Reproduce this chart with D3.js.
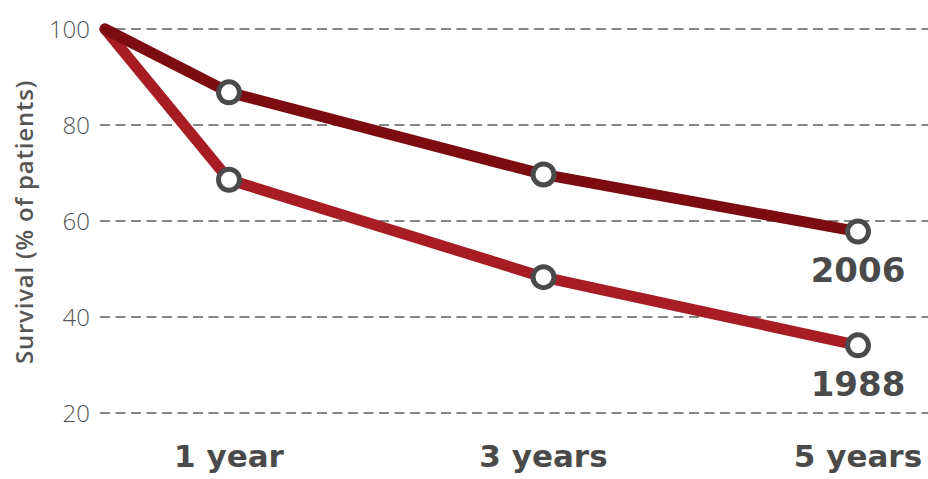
<!DOCTYPE html>
<html>
<head>
<meta charset="utf-8">
<script src="https://cdn.jsdelivr.net/npm/d3@7"></script>
<style>
  html, body { margin: 0; padding: 0; background: #fff; }
  svg { display: block; font-family: "DejaVu Sans", sans-serif; }
</style>
</head>
<body>
<script>
// data
var years = [0, 1, 3, 5];
var tickYears = [1, 3, 5];
var tickLabels = ["1 year", "3 years", "5 years"];
var yTicks = [20, 40, 60, 80, 100];
var survival1988 = [100, 68.6, 48.3, 34.1];
var survival2006 = [100, 86.8, 69.7, 57.8];
var seriesNames = ["1988", "2006"];
var seriesColors = ["#a81c24", "#7d0c11"];

var width = 928, height = 479;

var svg = d3.select("body").append("svg")
    .attr("width", width)
    .attr("height", height);

// start point sits closer to "1 year" than the yearly spacing would say
var x = d3.scaleLinear().domain([0, 1, 5]).range([105, 229, 858]);
var y = d3.scaleLinear().domain([20, 100]).range([413, 29]);

// gridlines
svg.append("g")
  .selectAll("line")
  .data(yTicks)
  .enter().append("line")
    .attr("x1", 100)
    .attr("x2", width)
    .attr("y1", function (d) { return y(d); })
    .attr("y2", function (d) { return y(d); })
    .attr("stroke", "#5e5e5e")
    .attr("stroke-width", 1.3)
    .attr("stroke-dasharray", "10,5.5");

// y tick labels
svg.append("g")
  .selectAll("text")
  .data(yTicks)
  .enter().append("text")
    .attr("x", 90)
    .attr("y", function (d) { return y(d); })
    .attr("dy", "0.36em")
    .attr("text-anchor", "end")
    .attr("font-family", "'Open Sans', sans-serif")
    .attr("font-size", 24)
    .attr("font-weight", 300)
    .attr("fill", "#555")
    .text(function (d) { return d; });

// y axis title
svg.append("text")
    .attr("transform", "translate(33,222) rotate(-90)")
    .attr("text-anchor", "middle")
    .attr("font-family", "'Open Sans', sans-serif")
    .attr("font-size", 24)
    .attr("font-weight", 600)
    .attr("letter-spacing", 0.8)
    .attr("fill", "#555")
    .text("Survival (% of patients)");

// x labels
svg.append("g")
  .selectAll("text")
  .data(tickYears)
  .enter().append("text")
    .attr("x", function (d) { return x(d); })
    .attr("y", 467)
    .attr("text-anchor", "middle")
    .attr("font-size", 31)
    .attr("font-weight", 700)
    .attr("fill", "#4a4a4a")
    .text(function (d, i) { return tickLabels[i]; });

var line = d3.line()
    .x(function (d, i) { return x(years[i]); })
    .y(function (d) { return y(d); });

var series = [survival1988, survival2006];

series.forEach(function (vals, s) {
  svg.append("path")
      .datum(vals)
      .attr("fill", "none")
      .attr("stroke", seriesColors[s])
      .attr("stroke-width", 11)
      .attr("stroke-linecap", "round")
      .attr("stroke-linejoin", "round")
      .attr("d", line);
});

series.forEach(function (vals) {
  svg.append("g")
    .selectAll("circle")
    .data(vals.slice(1))
    .enter().append("circle")
      .attr("cx", function (d, i) { return x(years[i + 1]); })
      .attr("cy", function (d) { return y(d); })
      .attr("r", 10.5)
      .attr("fill", "#fff")
      .attr("stroke", "#4a4a4a")
      .attr("stroke-width", 5);
});

// series labels under the last point
series.forEach(function (vals, s) {
  var last = vals[vals.length - 1];
  svg.append("text")
      .attr("x", x(years[years.length - 1]))
      .attr("y", y(last) + 50.5)
      .attr("text-anchor", "middle")
      .attr("font-size", 34)
      .attr("font-weight", 700)
      .attr("fill", "#4a4a4a")
      .text(seriesNames[s]);
});
</script>
</body>
</html>
